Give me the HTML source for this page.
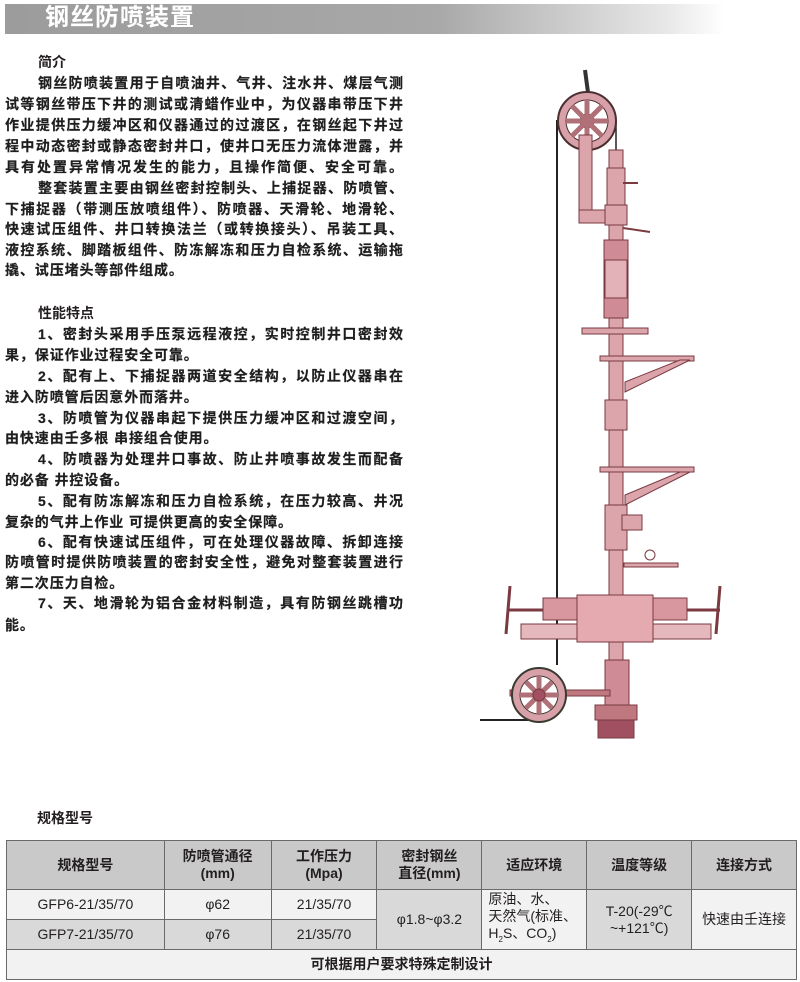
<!DOCTYPE html>
<html><head><meta charset="utf-8"><style>
*{margin:0;padding:0;box-sizing:border-box}
body{width:800px;height:982px;background:#fff;position:relative;overflow:hidden;font-family:"Liberation Sans","Noto Sans CJK SC",sans-serif;color:#231f20}
.bar{position:absolute;left:5px;top:4px;width:720px;height:30px;background:linear-gradient(90deg,#9c9c9c 0%,#a8a8a8 60%,#e8e8e8 92%,#fff 100%)}
.title{position:absolute;left:45px;top:3px;font-size:24px;font-weight:bold;color:#fff;letter-spacing:1px;line-height:30px}
.l{position:absolute;left:5px;width:398px;font-size:14px;font-weight:bold;line-height:20px;height:20px;text-align:justify;text-align-last:justify;white-space:nowrap;color:#1e1e1e;-webkit-text-stroke:0.2px #1e1e1e}
.l.i{left:38px;width:365px}
.l.s{text-align-last:left;letter-spacing:0.9px}
.h{position:absolute;left:38px;font-size:14px;font-weight:bold;line-height:20px}
table{position:absolute;left:6px;top:840px;width:791px;border-collapse:collapse;font-size:14px}
td{border:1px solid #6a6a6a;text-align:center;vertical-align:middle;line-height:17px;padding:0}
.hd td{background:#c9c9c9;font-weight:bold;height:49px}
.a{background:#f2f2f2}.g{background:#d9d9d9}
</style></head><body>
<div class="bar"></div><div class="title">钢丝防喷装置</div>
<div class="h" style="top:52px">简介</div>
<div class="l i" style="top:73px">钢丝防喷装置用于自喷油井、气井、注水井、煤层气测</div>
<div class="l" style="top:94px">试等钢丝带压下井的测试或清蜡作业中，为仪器串带压下井</div>
<div class="l" style="top:115px">作业提供压力缓冲区和仪器通过的过渡区，在钢丝起下井过</div>
<div class="l" style="top:136px">程中动态密封或静态密封井口，使井口无压力流体泄露，并</div>
<div class="l" style="top:157px">具有处置异常情况发生的能力，且操作简便、安全可靠。</div>
<div class="l i" style="top:178px">整套装置主要由钢丝密封控制头、上捕捉器、防喷管、</div>
<div class="l" style="top:199px">下捕捉器（带测压放喷组件）、防喷器、天滑轮、地滑轮、</div>
<div class="l" style="top:219px">快速试压组件、井口转换法兰（或转换接头）、吊装工具、</div>
<div class="l" style="top:240px">液控系统、脚踏板组件、防冻解冻和压力自检系统、运输拖</div>
<div class="l s" style="top:260px">撬、试压堵头等部件组成。</div>
<div class="h" style="top:303px">性能特点</div>
<div class="l i" style="top:324px">1、密封头采用手压泵远程液控，实时控制井口密封效</div>
<div class="l s" style="top:345px">果，保证作业过程安全可靠。</div>
<div class="l i" style="top:366px">2、配有上、下捕捉器两道安全结构，以防止仪器串在</div>
<div class="l s" style="top:387px">进入防喷管后因意外而落井。</div>
<div class="l i" style="top:408px">3、防喷管为仪器串起下提供压力缓冲区和过渡空间，</div>
<div class="l s" style="top:428px">由快速由壬多根 串接组合使用。</div>
<div class="l i" style="top:449px">4、防喷器为处理井口事故、防止井喷事故发生而配备</div>
<div class="l s" style="top:470px">的必备 井控设备。</div>
<div class="l i" style="top:491px">5、配有防冻解冻和压力自检系统，在压力较高、井况</div>
<div class="l s" style="top:512px">复杂的气井上作业 可提供更高的安全保障。</div>
<div class="l i" style="top:532px">6、配有快速试压组件，可在处理仪器故障、拆卸连接</div>
<div class="l" style="top:552px">防喷管时提供防喷装置的密封安全性，避免对整套装置进行</div>
<div class="l s" style="top:573px">第二次压力自检。</div>
<div class="l i" style="top:593px">7、天、地滑轮为铝合金材料制造，具有防钢丝跳槽功</div>
<div class="l s" style="top:615px">能。</div>

<svg style="position:absolute;left:0;top:0" width="800" height="982">
<g stroke="#7a3a40" stroke-width="1" fill="#dca4ab">
<line x1="557" y1="120" x2="557" y2="665" stroke="#222" stroke-width="2"/>
<line x1="480" y1="720" x2="535" y2="720" stroke="#222" stroke-width="2"/>
<line x1="616" y1="121" x2="616" y2="152" stroke="#222" stroke-width="1.5"/>
<line x1="585" y1="70" x2="589" y2="100" stroke="#333" stroke-width="4"/>
<circle cx="587" cy="121" r="29" fill="#d8a0a8" stroke="#4a3030" stroke-width="2"/>
<circle cx="587" cy="121" r="21" fill="#fff" stroke="#4a3030"/>
<circle cx="587" cy="121" r="7" fill="#a05060"/>
<g stroke="#b07078" stroke-width="5"><line x1="587" y1="100" x2="587" y2="142"/><line x1="566" y1="121" x2="608" y2="121"/><line x1="572" y1="106" x2="602" y2="136"/><line x1="602" y1="106" x2="572" y2="136"/></g>
<rect x="579" y="135" width="13" height="88"/>
<rect x="579" y="210" width="35" height="13"/>
<rect x="609" y="150" width="14" height="470"/>
<rect x="607" y="168" width="18" height="40"/>
<rect x="605" y="205" width="22" height="20"/>
<line x1="623" y1="183" x2="638" y2="183" stroke-width="2"/>
<line x1="623" y1="228" x2="650" y2="232" stroke-width="2"/>
<rect x="604" y="240" width="24" height="78" fill="#cf8c96"/>
<rect x="605" y="260" width="22" height="38" fill="#e2b2b8"/>
<rect x="582" y="328" width="66" height="6"/>
<rect x="600" y="356" width="94" height="5"/>
<path d="M625 392 L690 360 L680 360 L625 382Z"/>
<rect x="605" y="400" width="22" height="30"/>
<rect x="600" y="467" width="94" height="5"/>
<path d="M625 505 L690 472 L680 472 L625 495Z"/>
<rect x="605" y="505" width="22" height="45"/>
<rect x="622" y="515" width="20" height="15"/>
<rect x="624" y="563" width="54" height="4"/>
<circle cx="650" cy="555" r="5" fill="none"/>
<rect x="543" y="598" width="144" height="22" fill="#d8969f"/>
<rect x="521" y="624" width="190" height="15" fill="#e4b8bd"/>
<rect x="577" y="595" width="76" height="47" fill="#e5a9b0"/>
<line x1="508" y1="610" x2="543" y2="610" stroke-width="3"/>
<line x1="687" y1="610" x2="720" y2="610" stroke-width="3"/>
<line x1="510" y1="586" x2="506" y2="634" stroke-width="3"/>
<line x1="720" y1="586" x2="716" y2="634" stroke-width="3"/>
<rect x="609" y="642" width="14" height="20"/>
<rect x="605" y="660" width="24" height="45" fill="#cf8c96"/>
<rect x="595" y="705" width="42" height="15" fill="#c07880"/>
<rect x="598" y="720" width="36" height="18" fill="#a05060"/>
<rect x="510" y="690" width="100" height="6" fill="#c07880"/>
<circle cx="539" cy="695" r="27" fill="#d8a0a8" stroke="#3a3a30" stroke-width="2"/>
<circle cx="539" cy="695" r="19" fill="#fff" stroke="#3a3a30"/>
<g stroke="#b07078" stroke-width="5"><line x1="539" y1="676" x2="539" y2="714"/><line x1="520" y1="695" x2="558" y2="695"/><line x1="526" y1="682" x2="552" y2="708"/><line x1="552" y1="682" x2="526" y2="708"/></g>
<circle cx="539" cy="695" r="6" fill="#a05060"/>
</g>
</svg>

<div class="h" style="top:808px;left:37px">规格型号</div>
<table>
<colgroup><col style="width:158px"><col style="width:107px"><col style="width:106px"><col style="width:105px"><col style="width:105px"><col style="width:105px"><col style="width:105px"></colgroup>
<tr class="hd"><td>规格型号</td><td>防喷管通径<br>(mm)</td><td>工作压力<br>(Mpa)</td><td>密封钢丝<br>直径(mm)</td><td>适应环境</td><td>温度等级</td><td>连接方式</td></tr>
<tr style="height:30px"><td class="a">GFP6-21/35/70</td><td class="a">φ62</td><td class="a">21/35/70</td><td class="g" rowspan="2">φ1.8~φ3.2</td><td class="a" rowspan="2" style="text-align:left;padding-left:6px">原油、水、<br>天然气(标准、<br>H<sub style="font-size:8px">2</sub>S、CO<sub style="font-size:8px">2</sub>)</td><td class="g" rowspan="2">T-20(-29℃<br>~+121℃)</td><td class="a" rowspan="2">快速由壬连接</td></tr>
<tr style="height:30px"><td class="g">GFP7-21/35/70</td><td class="g">φ76</td><td class="g">21/35/70</td></tr>
<tr style="height:30px"><td class="a" colspan="7" style="font-weight:bold">可根据用户要求特殊定制设计</td></tr>
</table>
</body></html>
